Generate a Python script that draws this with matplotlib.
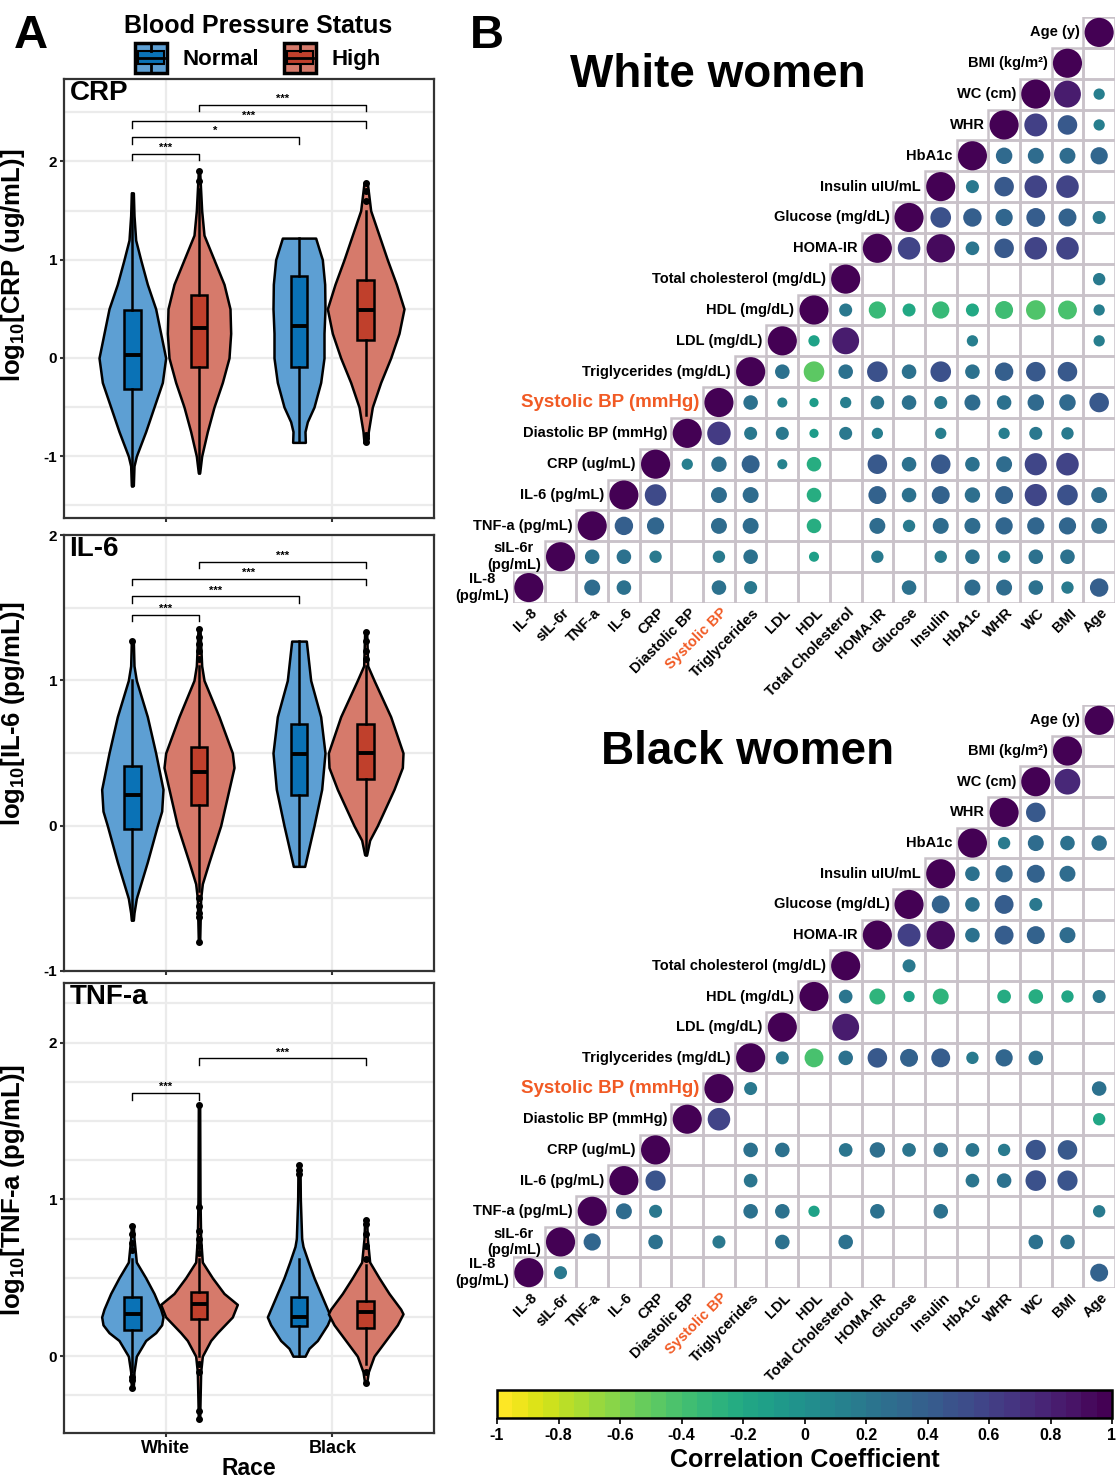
import numpy as np
import matplotlib
matplotlib.use("Agg")
import matplotlib.pyplot as plt
from matplotlib.patches import Rectangle, Patch
from matplotlib.lines import Line2D
from matplotlib.legend_handler import HandlerBase
from matplotlib.cm import ScalarMappable
from matplotlib.colors import Normalize

plt.rcParams["font.family"] = ["Liberation Sans", "DejaVu Sans"]
plt.rcParams["font.weight"] = "bold"
plt.rcParams["axes.unicode_minus"] = False
plt.rcParams["mathtext.fontset"] = "custom"
plt.rcParams["mathtext.rm"] = "Liberation Sans:bold"
plt.rcParams["mathtext.bf"] = "Liberation Sans:bold"
plt.rcParams["mathtext.it"] = "Liberation Sans:bold:italic"

W, H = 1116, 1477

# ---------------- panel A data ----------------
# order of groups: Normal-White, High-White, Normal-Black, High-Black
races = ["White", "Black"]
bp_status = ["Normal", "High"]
positions = [0.8, 1.2, 1.8, 2.2]

crp_violin_y = [
    [-1.3, -1.1, -1.0, -0.75, -0.5, -0.25, 0.0, 0.25, 0.5, 0.75, 1.0, 1.2, 1.45, 1.68],
    [-1.17, -1.0, -0.75, -0.5, -0.25, 0.0, 0.25, 0.5, 0.75, 1.0, 1.25, 1.5, 1.9],
    [-0.86, -0.75, -0.65, -0.5, -0.25, 0.0, 0.25, 0.5, 0.75, 1.0, 1.22],
    [-0.86, -0.75, -0.5, -0.25, 0.0, 0.25, 0.5, 0.75, 1.0, 1.25, 1.5, 1.78],
]
crp_violin_w = [
    [0.006, 0.01, 0.024, 0.08, 0.13, 0.18, 0.2, 0.17, 0.14, 0.09, 0.05, 0.02, 0.01, 0.006],
    [0.004, 0.016, 0.05, 0.09, 0.14, 0.18, 0.19, 0.186, 0.15, 0.09, 0.03, 0.016, 0.004],
    [0.038, 0.036, 0.05, 0.09, 0.13, 0.15, 0.15, 0.156, 0.154, 0.14, 0.1],
    [0.01, 0.016, 0.04, 0.09, 0.15, 0.2, 0.23, 0.184, 0.13, 0.08, 0.03, 0.01],
]
# q1, median, q3, lower whisker, upper whisker
crp_box = [(-0.32, 0.03, 0.49, -1.3, 1.68),
           (-0.09, 0.30, 0.64, -1.17, 1.72),
           (-0.09, 0.33, 0.83, -0.86, 1.22),
           (0.18, 0.49, 0.79, -0.58, 1.5)]
crp_fliers = [[], [1.8, 1.9], [], [-0.86, -0.82, -0.78, 1.6, 1.7, 1.78]]
crp_brackets = [(0.8, 1.2, 2.08, "***"), (0.8, 1.8, 2.25, "*"),
                (0.8, 2.2, 2.41, "***"), (1.2, 2.2, 2.58, "***")]

il6_violin_y = [
    [-0.65, -0.6, -0.5, -0.25, 0.0, 0.1, 0.25, 0.5, 0.75, 1.0, 1.1, 1.27],
    [-0.8, -0.5, -0.4, -0.25, 0.0, 0.25, 0.4, 0.5, 0.75, 1.0, 1.1, 1.35],
    [-0.28, -0.2, 0.0, 0.25, 0.5, 0.75, 1.0, 1.27],
    [-0.2, -0.1, 0.0, 0.25, 0.4, 0.5, 0.75, 1.0, 1.1, 1.33],
]
il6_violin_w = [
    [0.006, 0.01, 0.024, 0.09, 0.15, 0.176, 0.184, 0.14, 0.09, 0.024, 0.01, 0.006],
    [0.004, 0.01, 0.02, 0.06, 0.13, 0.18, 0.21, 0.2, 0.12, 0.03, 0.016, 0.006],
    [0.034, 0.05, 0.09, 0.136, 0.156, 0.13, 0.07, 0.044],
    [0.006, 0.024, 0.07, 0.17, 0.22, 0.224, 0.15, 0.05, 0.012, 0.006],
]
il6_box = [(-0.02, 0.21, 0.41, -0.65, 1.0),
           (0.14, 0.37, 0.54, -0.45, 1.1),
           (0.21, 0.49, 0.70, -0.28, 1.27),
           (0.32, 0.50, 0.70, -0.2, 1.1)]
il6_fliers = [[1.27], [-0.8, -0.63, -0.6, -0.55, -0.5, 1.15, 1.2, 1.25, 1.3, 1.35],
              [], [1.15, 1.2, 1.27, 1.33]]
il6_brackets = [(0.8, 1.2, 1.45, "***"), (0.8, 1.8, 1.58, "***"),
                (0.8, 2.2, 1.70, "***"), (1.2, 2.2, 1.815, "***")]

tnf_violin_y = [
    [-0.2, -0.1, 0.0, 0.1, 0.15, 0.2, 0.25, 0.3, 0.4, 0.5, 0.6, 0.75, 0.83],
    [-0.4, -0.1, 0.0, 0.1, 0.15, 0.25, 0.33, 0.4, 0.5, 0.6, 0.75, 1.0, 1.6],
    [0.0, 0.05, 0.1, 0.2, 0.25, 0.3, 0.4, 0.5, 0.6, 0.7, 0.75, 1.0, 1.22],
    [-0.17, -0.1, 0.0, 0.1, 0.2, 0.27, 0.3, 0.4, 0.5, 0.6, 0.75, 0.87],
]
tnf_violin_w = [
    [0.006, 0.01, 0.024, 0.08, 0.14, 0.176, 0.184, 0.17, 0.13, 0.08, 0.024, 0.01, 0.006],
    [0.004, 0.01, 0.02, 0.07, 0.11, 0.2, 0.23, 0.15, 0.08, 0.02, 0.01, 0.006, 0.004],
    [0.036, 0.06, 0.11, 0.17, 0.19, 0.17, 0.13, 0.09, 0.056, 0.024, 0.016, 0.008, 0.006],
    [0.006, 0.016, 0.05, 0.12, 0.19, 0.224, 0.21, 0.14, 0.08, 0.024, 0.01, 0.006],
]
tnf_box = [(0.17, 0.27, 0.38, -0.1, 0.62),
           (0.24, 0.33, 0.41, 0.0, 0.62),
           (0.19, 0.25, 0.38, 0.0, 0.62),
           (0.18, 0.28, 0.35, -0.05, 0.58)]
tnf_fliers = [[-0.2, -0.15, -0.13, 0.68, 0.72, 0.78, 0.83],
              [-0.4, -0.35, -0.1, -0.05, 0.66, 0.7, 0.75, 0.8, 0.95, 1.6],
              [1.16, 1.19, 1.22],
              [-0.17, -0.1, 0.62, 0.7, 0.78, 0.84, 0.87]]
tnf_brackets = [(0.8, 1.2, 1.68, "***"), (1.2, 2.2, 1.90, "***")]

# ---------------- panel B data ----------------
row_labels = ["IL-8\n(pg/mL)", "sIL-6r\n(pg/mL)", "TNF-a (pg/mL)", "IL-6 (pg/mL)",
              "CRP (ug/mL)", "Diastolic BP (mmHg)", "Systolic BP (mmHg)",
              "Triglycerides (mg/dL)", "LDL (mg/dL)", "HDL (mg/dL)",
              "Total cholesterol (mg/dL)", "HOMA-IR", "Glucose (mg/dL)",
              "Insulin uIU/mL", "HbA1c", "WHR", "WC (cm)", "BMI (kg/m²)", "Age (y)"]
col_labels = ["IL-8", "sIL-6r", "TNF-a", "IL-6", "CRP", "Diastolic BP", "Systolic BP",
              "Triglycerides", "LDL", "HDL", "Total Cholesterol", "HOMA-IR", "Glucose",
              "Insulin", "HbA1c", "WHR", "WC", "BMI", "Age"]
N = None
# each row: correlations with the columns right of the diagonal (None = not significant)
white_r = [
    [N, 0.3, 0.25, N, N, 0.25, 0.2, N, N, N, N, 0.25, N, 0.3, 0.3, 0.25, 0.18, 0.4],
    [0.25, 0.25, 0.18, N, 0.18, 0.25, N, -0.12, N, 0.18, N, 0.18, 0.25, 0.18, 0.25, 0.25, N],
    [0.4, 0.35, N, 0.3, 0.3, N, -0.25, N, 0.3, 0.18, 0.3, 0.3, 0.35, 0.35, 0.35, 0.3],
    [0.55, N, 0.3, 0.3, N, -0.25, N, 0.38, 0.25, 0.38, 0.28, 0.38, 0.58, 0.5, 0.3],
    [0.15, 0.28, 0.38, 0.12, -0.25, N, 0.45, 0.25, 0.45, 0.25, 0.3, 0.58, 0.6, N],
    [0.65, 0.2, 0.2, -0.1, 0.2, 0.15, N, 0.15, N, 0.15, 0.2, 0.18, N],
    [0.25, 0.12, -0.1, 0.15, 0.22, 0.25, 0.2, 0.3, 0.25, 0.32, 0.32, 0.45],
    [0.25, -0.5, 0.25, 0.5, 0.25, 0.5, 0.25, 0.4, 0.45, 0.45, N],
    [-0.15, 0.85, N, N, N, 0.15, N, N, N, 0.15],
    [0.2, -0.35, -0.2, -0.35, -0.2, -0.38, -0.45, -0.42, 0.15],
    [N, N, N, N, N, N, N, 0.18],
    [0.6, 0.95, 0.22, 0.45, 0.6, 0.6, N],
    [0.5, 0.4, 0.35, 0.42, 0.38, 0.2],
    [0.2, 0.45, 0.6, 0.6, N],
    [0.32, 0.3, 0.3, 0.35],
    [0.62, 0.45, 0.15],
    [0.85, 0.15],
    [N],
    [],
]
black_r = [
    [0.2, N, N, N, N, N, N, N, N, N, N, N, N, N, N, N, N, 0.38],
    [0.35, N, 0.25, N, 0.2, N, 0.25, N, 0.25, N, N, N, N, N, 0.25, 0.25, N],
    [0.3, 0.2, N, N, 0.25, 0.25, -0.15, N, 0.25, N, 0.25, N, N, N, N, 0.18],
    [0.48, N, N, 0.22, N, N, N, N, N, N, 0.22, 0.25, 0.5, 0.48, N],
    [N, N, 0.25, 0.25, N, 0.22, 0.28, 0.22, 0.25, 0.22, 0.18, 0.48, 0.45, N],
    [0.6, N, N, N, N, N, N, N, N, N, N, N, -0.18],
    [0.2, N, N, N, N, N, N, N, N, N, N, 0.25],
    [0.2, -0.42, 0.25, 0.45, 0.38, 0.42, 0.18, 0.35, 0.25, N, N],
    [N, 0.85, N, N, N, N, N, N, N, N],
    [0.22, -0.3, -0.15, -0.3, N, -0.22, -0.25, -0.18, 0.2],
    [N, 0.2, N, N, N, N, N, N],
    [0.62, 0.95, 0.25, 0.42, 0.38, 0.3, N],
    [0.38, 0.25, 0.42, 0.2, N, N],
    [0.25, 0.35, 0.38, 0.3, N],
    [0.18, 0.3, 0.25, 0.28],
    [0.45, N, N],
    [0.78, N],
    [N],
    [],
]

# ---------------- styling ----------------
violin_fill = ["#5d9fd3", "#d67a6b", "#5d9fd3", "#d67a6b"]
box_fill = ["#0a72b6", "#c0402c", "#0a72b6", "#c0402c"]
sbp_color = "#f15a24"
grid_c = "#c9c2c9"
cmap = plt.get_cmap("viridis_r")

fig = plt.figure(figsize=(W / 100, H / 100), dpi=100)


def ax_rect(x0, y0, x1, y1):
    return [x0 / W, 1 - y1 / H, (x1 - x0) / W, (y1 - y0) / H]


def violin_panel(rect, title, ylabel, vy, vw, boxes, fliers, brackets, ylim,
                 yticks, minor_step, show_x, label_y):
    ax = fig.add_axes(rect)
    vpstats = []
    widths = []
    for y, w in zip(vy, vw):
        vpstats.append(dict(coords=np.array(y), vals=np.array(w), mean=np.mean(y),
                            median=np.median(y), min=min(y), max=max(y)))
        widths.append(2 * max(w))
    parts = ax.violin(vpstats, positions=positions, widths=widths,
                      showmeans=False, showextrema=False, showmedians=False)
    for body, fc in zip(parts["bodies"], violin_fill):
        body.set_facecolor(fc)
        body.set_edgecolor("black")
        body.set_linewidth(1.8)
        body.set_alpha(1)
        body.set_zorder(2)
    bstats = []
    for (q1, med, q3, lo, hi), fl in zip(boxes, fliers):
        bstats.append(dict(q1=q1, med=med, q3=q3, whislo=lo, whishi=hi, fliers=fl))
    bp = ax.bxp(bstats, positions=positions, widths=0.1, patch_artist=True,
                showcaps=False, zorder=3,
                boxprops=dict(edgecolor="black", linewidth=1.8),
                medianprops=dict(color="black", linewidth=2.8),
                whiskerprops=dict(color="black", linewidth=1.8),
                flierprops=dict(marker="o", markerfacecolor="black",
                                markeredgecolor="black", markersize=4))
    for patch, fc in zip(bp["boxes"], box_fill):
        patch.set_facecolor(fc)
    tip = 0.015 * (ylim[1] - ylim[0])
    for x1, x2, yb, star in brackets:
        ax.plot([x1, x1, x2, x2], [yb - tip, yb, yb, yb - tip], color="black", lw=1.0,
                zorder=4)
        ax.text((x1 + x2) / 2, yb + 0.1 * tip, star, ha="center", va="bottom",
                fontsize=8)
    ax.set_xticks([1, 2])
    ax.set_yticks(yticks)
    ax.set_yticklabels([str(t) for t in yticks], fontsize=11, fontweight="bold")
    ax.set_yticks(np.arange(-2, 3.01, minor_step), minor=True)
    ax.set_xlim(0.39, 2.61)
    ax.set_ylim(*ylim)
    if show_x:
        ax.set_xticklabels(races, fontsize=13, fontweight="bold")
        ax.set_xlabel("Race", fontsize=16.5, fontweight="bold", labelpad=0)
    else:
        ax.set_xticklabels([])
    ax.grid(True, which="both", color="#ebebeb", lw=1.6)
    ax.set_axisbelow(True)
    ax.tick_params(which="major", length=3, width=1.5, color="#333333", pad=2)
    ax.tick_params(which="minor", length=0)
    for s in ax.spines.values():
        s.set_color("#333333")
        s.set_linewidth(1.6)
    ax.text(0.015, 0.997, title, transform=ax.transAxes, ha="left", va="top",
            fontsize=20, fontweight="bold")
    ax.set_ylabel(ylabel, fontsize=18.5, fontweight="bold")
    ax.yaxis.set_label_coords(-0.1, label_y)
    return ax


violin_panel(ax_rect(64, 79, 434, 518), "CRP", r"log$_{10}$[CRP (ug/mL)]",
             crp_violin_y, crp_violin_w, crp_box, crp_fliers, crp_brackets,
             (-1.63, 2.84), [-1, 0, 1, 2], 0.5, False, 0.575)
violin_panel(ax_rect(64, 535, 434, 971), "IL-6", r"log$_{10}$[IL-6 (pg/mL)]",
             il6_violin_y, il6_violin_w, il6_box, il6_fliers, il6_brackets,
             (-1.0, 2.0), [-1, 0, 1, 2], 0.5, False, 0.59)
violin_panel(ax_rect(64, 983, 434, 1433), "TNF-a", r"log$_{10}$[TNF-a (pg/mL)]",
             tnf_violin_y, tnf_violin_w, tnf_box, tnf_fliers, tnf_brackets,
             (-0.49, 2.38), [0, 1, 2], 0.25, True, 0.54)


# legend with violin+box keys
class ViolinBoxHandler(HandlerBase):
    def __init__(self, light, dark):
        super().__init__()
        self.light = light
        self.dark = dark

    def create_artists(self, legend, orig_handle, xd, yd, w, h, fontsize, trans):
        x0, y0 = -xd, -yd
        outer = Rectangle((x0, y0), w, h, facecolor=self.light, edgecolor="black",
                          lw=2.5, transform=trans)
        box = Rectangle((x0 + 0.1 * w, y0 + 0.28 * h), 0.8 * w, 0.44 * h,
                        facecolor=self.dark, edgecolor="black", lw=1.5, transform=trans)
        med = Line2D([x0 + 0.1 * w, x0 + 0.9 * w], [y0 + 0.5 * h] * 2, color="black",
                     lw=2, transform=trans)
        wl = Line2D([x0 + 0.5 * w] * 2, [y0, y0 + 0.28 * h], color="black", lw=2,
                    transform=trans)
        wu = Line2D([x0 + 0.5 * w] * 2, [y0 + 0.72 * h, y0 + h], color="black", lw=2,
                    transform=trans)
        return [outer, box, med, wl, wu]


hn = Patch(facecolor=box_fill[0])
hh = Patch(facecolor=box_fill[1])
fig.legend(handles=[hn, hh], labels=bp_status, loc="upper center",
           bbox_to_anchor=(258 / W, 1.0), ncol=2, frameon=False,
           title="Blood Pressure Status",
           title_fontproperties={"weight": "bold", "size": 18},
           prop={"weight": "bold", "size": 16}, handlelength=1.45, handleheight=1.7,
           handletextpad=0.7, columnspacing=1.1, borderpad=0.15, labelspacing=0.2,
           handler_map={hn: ViolinBoxHandler(violin_fill[0], box_fill[0]),
                        hh: ViolinBoxHandler(violin_fill[1], box_fill[1])})

fig.text(14 / W, 1 - 36 / H, "A", fontsize=34, fontweight="bold", va="center")
fig.text(470 / W, 1 - 36 / H, "B", fontsize=34, fontweight="bold", va="center")


def corr_panel(rect, rows, title, title_xy):
    ax = fig.add_axes(rect)
    n = len(row_labels)
    xs, ys, rs = [], [], []
    for i in range(n):
        vals = [1.0] + list(rows[i])
        for k, v in enumerate(vals):
            j = i + k
            ax.add_patch(Rectangle((j - 0.5, i - 0.5), 1, 1, fill=False,
                                   edgecolor=grid_c, lw=1.8, zorder=1))
            if v is not None:
                xs.append(j)
                ys.append(i)
                rs.append(v)
    rs = np.array(rs)
    ax.scatter(xs, ys, s=440 * np.abs(rs), c=rs, cmap=cmap, vmin=-1, vmax=1,
               edgecolors="none", zorder=2)
    for i, lab in enumerate(row_labels):
        if "Systolic" in lab:
            ax.text(i - 0.62, i, lab, ha="right", va="center", fontsize=13.5,
                    fontweight="bold", color=sbp_color)
        else:
            ax.text(i - 0.62, i, lab, ha="right", va="center", ma="center",
                    fontsize=10.5, fontweight="bold", linespacing=1.25)
    for j, lab in enumerate(col_labels):
        ax.text(j + 0.2, -0.75, lab, ha="right", va="center", rotation=45,
                rotation_mode="anchor", fontsize=10.5, fontweight="bold",
                color=sbp_color if "Systolic" in lab else "black")
    ax.set_xlim(-0.5, n - 0.5)
    ax.set_ylim(-0.5, n - 0.5)
    ax.axis("off")
    fig.text(title_xy[0] / W, 1 - title_xy[1] / H, title, ha="center", va="center",
             fontsize=33, fontweight="bold")


corr_panel(ax_rect(513, 17, 1115, 603), white_r, "White women", (718, 75))
corr_panel(ax_rect(513, 705, 1115, 1288), black_r, "Black women", (748, 752))

cax = fig.add_axes(ax_rect(497, 1390, 1112, 1418))
sm = ScalarMappable(norm=Normalize(-1, 1), cmap=plt.get_cmap("viridis_r", 40))
cb = fig.colorbar(sm, cax=cax, orientation="horizontal")
ticks = np.linspace(-1, 1, 11)
cb.set_ticks(ticks)
cb.set_ticklabels(["{:g}".format(round(t, 1) + 0.0) for t in ticks])
cax.tick_params(labelsize=11.5, length=4, width=1.2, pad=3)
for lab in cax.get_xticklabels():
    lab.set_fontweight("bold")
cb.outline.set_linewidth(1.8)
cb.set_label("Correlation Coefficient", fontsize=18, fontweight="bold", labelpad=4)

fig.savefig("out.png", dpi=100)
